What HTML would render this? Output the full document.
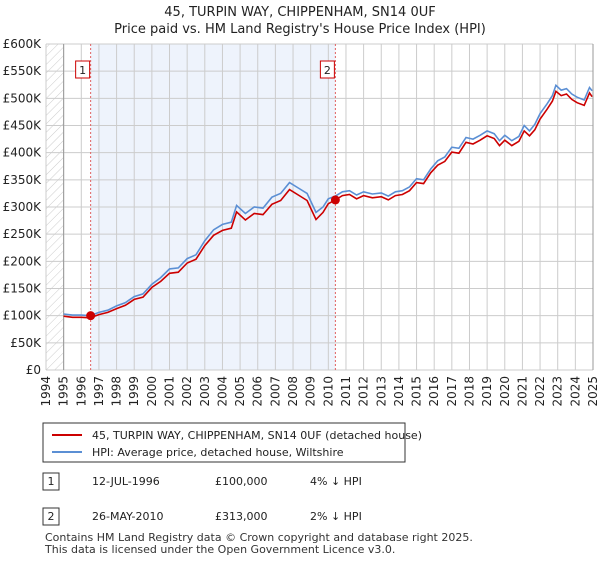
<!DOCTYPE html>
<html><head><meta charset="utf-8"><style>
body{margin:0;background:#fff;font-family:"Liberation Sans","DejaVu Sans",sans-serif;}
svg text{font-family:"DejaVu Sans","Liberation Sans",sans-serif;}
</style></head><body>
<svg width="600" height="560" viewBox="0 0 600 560" xmlns="http://www.w3.org/2000/svg">
<defs><pattern id="hatch" width="6" height="6" patternUnits="userSpaceOnUse" patternTransform="rotate(45)"><line x1="0" y1="0" x2="0" y2="6" stroke="#ccc" stroke-width="1"/></pattern></defs>
<text x="300" y="16" text-anchor="middle" font-size="13" fill="#222">45, TURPIN WAY, CHIPPENHAM, SN14 0UF</text>
<text x="300" y="33" text-anchor="middle" font-size="13" fill="#222">Price paid vs. HM Land Registry's House Price Index (HPI)</text>
<g id="plot"></g>
<g id="legend">
<rect x="43" y="423" width="362" height="39" fill="#fff" stroke="#333"/>
<line x1="52" y1="435" x2="82" y2="435" stroke="#cc0000" stroke-width="2"/>
<text x="92" y="439" font-size="11" fill="#222">45, TURPIN WAY, CHIPPENHAM, SN14 0UF (detached house)</text>
<line x1="52" y1="452" x2="82" y2="452" stroke="#5b8fd4" stroke-width="2"/>
<text x="92" y="456" font-size="11" fill="#222">HPI: Average price, detached house, Wiltshire</text>
</g>
<g font-size="11" fill="#222">
<rect x="43" y="473" width="16" height="17" fill="#fff" stroke="#333"/><text x="51" y="485" text-anchor="middle">1</text>
<text x="92" y="485">12-JUL-1996</text><text x="215" y="485">£100,000</text><text x="310" y="485">4% ↓ HPI</text>
<rect x="43" y="508" width="16" height="17" fill="#fff" stroke="#333"/><text x="51" y="520" text-anchor="middle">2</text>
<text x="92" y="520">26-MAY-2010</text><text x="215" y="520">£313,000</text><text x="310" y="520">2% ↓ HPI</text>
</g>
<text x="45" y="541" font-size="11" fill="#333">Contains HM Land Registry data © Crown copyright and database right 2025.</text>
<text x="45" y="553" font-size="11" fill="#333">This data is licensed under the Open Government Licence v3.0.</text>
</svg>
<script>
const hpiYears=[1995,1995.5,1996,1996.5,1997,1997.5,1998,1998.5,1999,1999.5,2000,2000.5,2001,2001.5,2002,2002.5,2003,2003.5,2004,2004.5,2004.8,2005.3,2005.8,2006.3,2006.8,2007.3,2007.8,2008.3,2008.8,2009.3,2009.7,2010,2010.4,2010.8,2011.2,2011.6,2012,2012.5,2013,2013.4,2013.8,2014.2,2014.6,2015,2015.4,2015.8,2016.2,2016.6,2017,2017.4,2017.8,2018.2,2018.6,2019,2019.4,2019.7,2020,2020.4,2020.8,2021.1,2021.4,2021.7,2022,2022.4,2022.7,2022.9,2023.2,2023.5,2023.8,2024.1,2024.5,2024.8,2024.95];
const hpiValues=[103,101,101,100,106,110,118,124,135,140,158,170,186,188,205,212,238,258,268,272,303,288,300,298,318,325,345,335,325,290,300,315,320,328,330,322,328,324,326,320,328,330,337,352,350,370,385,392,410,408,428,425,432,440,435,422,432,422,430,450,440,452,472,490,505,524,515,518,508,502,497,520,514];
const ppValues=[99,97,97,96,102,106,113,119,130,134,152,163,178,180,197,204,229,248,257,261,291,276,288,286,305,312,332,322,312,277,290,306,313,321,323,315,321,317,319,313,321,323,330,345,343,363,377,384,401,399,419,416,423,431,426,413,423,413,421,440,431,442,462,480,495,513,505,508,498,492,487,510,503];
const yTicks=[0,50,100,150,200,250,300,350,400,450,500,550,600];
const yTickLabels=["£0","£50K","£100K","£150K","£200K","£250K","£300K","£350K","£400K","£450K","£500K","£550K","£600K"];
const xYears=[1994,1995,1996,1997,1998,1999,2000,2001,2002,2003,2004,2005,2006,2007,2008,2009,2010,2011,2012,2013,2014,2015,2016,2017,2018,2019,2020,2021,2022,2023,2024,2025];
const saleDates=[1996.53,2010.4];
const salePrices=[100,313];
const saleLabels=["1","2"];
const X0=46,X1=593,Y0=370,Y1=44;
const xs=y=>X0+(y-1994)/(2025-1994)*(X1-X0);
const ys=v=>Y0-v/600*(Y0-Y1);
const NS="http://www.w3.org/2000/svg";
const g=document.getElementById('plot');
function mk(t,a){const e=document.createElementNS(NS,t);for(const k in a)e.setAttribute(k,a[k]);g.appendChild(e);return e;}
let r=mk('rect',{x:X0,y:Y1,width:X1-X0,height:Y0-Y1,fill:'#fff'});


r=mk('rect',{x:X0,y:Y1,width:xs(1995)-X0,height:Y0-Y1,fill:'url(#hatch)'});


r=mk('rect',{x:xs(saleDates[0]),y:Y1,width:xs(saleDates[1])-xs(saleDates[0]),height:Y0-Y1,fill:'#eef3fc'});


yTicks.forEach((v,i)=>{
 const l=mk('line',{x1:X0,x2:X1,y1:ys(v),y2:ys(v),stroke:'#ccc','stroke-width':1});
 
 
 const t=mk('text',{x:X0-5,y:ys(v)+4,'text-anchor':'end','font-size':12,fill:'#222'});
 t.textContent=yTickLabels[i];
 
 
});
xYears.forEach(y=>{
 const l=mk('line',{x1:xs(y),x2:xs(y),y1:Y1,y2:Y0,stroke:'#ccc','stroke-width':1});
 
 
 const t=mk('text',{x:0,y:0,'text-anchor':'end','font-size':12,fill:'#222',transform:`translate(${xs(y)+4},${Y0+6}) rotate(-90)`});
 t.textContent=y;
 
 
});
let l=mk('line',{x1:xs(1995),x2:xs(1995),y1:Y1,y2:Y0,stroke:'#999'});


l=mk('line',{x1:X1,x2:X1,y1:Y1,y2:Y0,stroke:'#999'});


saleDates.forEach((d,i)=>{
 const vl=mk('line',{x1:xs(d),x2:xs(d),y1:Y1,y2:Y0,stroke:'#e06060','stroke-dasharray':'2,2','stroke-width':1});
 
 
 const b=mk('rect',{x:xs(d)-15,y:61,width:14,height:17,fill:'#fff',stroke:'#cc0000'});
 
 
 const t=mk('text',{x:xs(d)-8,y:74,'text-anchor':'middle','font-size':11,fill:'#222'});
 t.textContent=saleLabels[i];
 
 
});
const pts=(vals)=>hpiYears.map((y,i)=>xs(y).toFixed(1)+','+ys(vals[i]).toFixed(1)).join(' ');
const hp=mk('polyline',{points:pts(hpiValues),fill:'none',stroke:'#5b8fd4','stroke-width':1.6});


const pp=mk('polyline',{points:pts(ppValues),fill:'none',stroke:'#cc0000','stroke-width':1.6});


saleDates.forEach((d,i)=>{
 const c=mk('circle',{cx:xs(d),cy:ys(salePrices[i]),r:4.5,fill:'#cc0000'});
 
 
});
</script>
</body></html>
